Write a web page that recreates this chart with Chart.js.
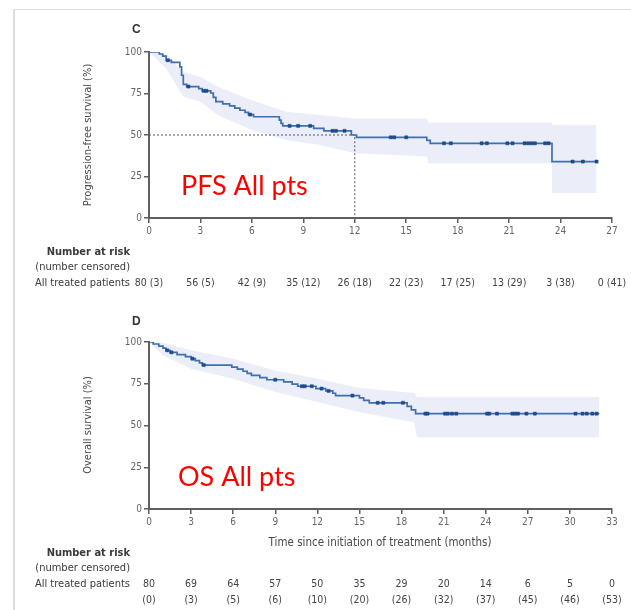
<!DOCTYPE html>
<html>
<head>
<meta charset="utf-8">
<script src="https://cdn.jsdelivr.net/npm/chart.js@4.4.1/dist/chart.umd.min.js"></script>
<style>
  html, body { margin: 0; padding: 0; background: #ffffff; }
  #frame { position: absolute; left: 13px; top: 9px; width: 618px; height: 601px;
           border-top: 1px solid #dedede; border-left: 2px solid #dedede; }
  .panel { position: absolute; left: 0; width: 631px; }
  #pC { top: 0; height: 300px; }
  #pD { top: 300px; height: 310px; }
</style>
</head>
<body>
<div id="frame"></div>
<div class="panel" id="pC"><canvas id="cC" width="631" height="300"></canvas></div>
<div class="panel" id="pD"><canvas id="cD" width="631" height="310"></canvas></div>
<script>
// ---------- Panel C: progression-free survival ----------
const pfsTicks = [0, 3, 6, 9, 12, 15, 18, 21, 24, 27];
const pfsAtRisk = [80, 56, 42, 35, 26, 22, 17, 13, 3, 0];
const pfsCensored = [3, 5, 9, 12, 18, 23, 25, 29, 38, 41];
// Kaplan-Meier steps: time (months) and survival (%) after each event
const pfsStepT = [0, 0.6, 0.8, 1.0, 1.3, 1.8, 1.9, 2.0, 2.2, 2.9, 3.1, 3.6, 3.75, 3.9, 4.3, 4.7, 5.0, 5.3, 5.6, 5.8, 6.1, 7.6, 7.7, 7.8, 9.6, 10.2, 11.8, 12.1, 16.2, 16.4, 23.5, 26.1];
const pfsStepS = [100, 98.8, 97.5, 95.0, 93.8, 91.0, 86.0, 80.5, 79.2, 77.9, 76.6, 75.3, 72.7, 70.1, 68.8, 67.5, 66.2, 64.9, 63.6, 62.3, 61.0, 59.0, 57.0, 55.5, 54.0, 52.5, 50.0, 48.6, 46.8, 45.0, 34.0, 34.0];
const pfsCensorT = [1.1, 2.3, 3.2, 3.35, 5.9, 8.2, 8.7, 9.4, 10.7, 10.9, 11.4, 14.1, 14.3, 15.0, 17.2, 17.6, 19.4, 19.7, 20.9, 21.2, 21.9, 22.1, 22.3, 22.5, 23.1, 23.3, 24.7, 25.3, 26.1];
// 95% confidence band (repeated times mark a vertical edge)
const pfsBandT = [0, 1, 2, 3, 4, 6, 8, 10, 12, 16.2, 16.3, 23.5, 23.5, 26.1];
const pfsUpper = [100, 99, 88, 85, 79, 71, 64, 62, 60, 60, 57.5, 57.5, 56, 56];
const pfsLower = [100, 90, 73, 70, 62, 53, 47, 44, 39, 37, 33, 33, 15, 15];
const pfsMedianMonths = 12;
const pfsMedianLevel = 50;

// ---------- Panel D: overall survival ----------
const osTicks = [0, 3, 6, 9, 12, 15, 18, 21, 24, 27, 30, 33];
const osAtRisk = [80, 69, 64, 57, 50, 35, 29, 20, 14, 6, 5, 0];
const osCensored = [0, 3, 5, 6, 10, 20, 26, 32, 37, 45, 46, 53];
const osStepT = [0, 0.3, 0.7, 1.0, 1.2, 1.5, 2.0, 2.6, 3.0, 3.3, 3.6, 3.8, 5.9, 6.3, 6.7, 7.0, 7.3, 7.9, 8.4, 9.6, 10.2, 10.6, 11.9, 12.6, 13.1, 13.3, 15.0, 15.3, 15.7, 18.4, 18.7, 19.0, 32.1];
const osStepS = [100, 98.8, 97.5, 96.3, 95.0, 93.8, 92.5, 91.2, 90.0, 88.8, 87.5, 86.2, 85.0, 83.7, 82.5, 81.2, 80.0, 78.7, 77.4, 76.1, 74.8, 73.5, 72.1, 70.7, 69.3, 67.9, 66.5, 65.1, 63.6, 61.4, 59.3, 57.1, 57.1];
const osCensorT = [1.3, 1.6, 3.1, 3.9, 9.0, 10.9, 11.1, 11.6, 12.3, 12.8, 14.5, 16.3, 16.7, 18.1, 19.7, 19.85, 21.1, 21.3, 21.6, 21.9, 24.1, 24.25, 24.8, 25.9, 26.1, 26.3, 26.9, 27.5, 30.4, 30.9, 31.2, 31.6, 31.9];
const osBandT = [0, 1, 3, 6, 9, 12, 15, 18.9, 19.1, 32.1];
const osUpper = [100, 99.5, 95, 90, 83, 78, 72.5, 69.5, 67, 67];
const osLower = [100, 92, 84, 78, 70, 64, 58, 52, 43, 43];

// ---------- shared styling ----------
const LINE_BLUE = '#3f6fae';
const MARK_BLUE = '#1d4b8c';
const BAND_FILL = 'rgba(195, 205, 238, 0.34)';
const AXIS_GREY = '#5f5f5f';
const TEXT_GREY = '#4a4a4a';
const NARROW = '"Liberation Sans Narrow", "DejaVu Sans Condensed", "Liberation Sans", sans-serif';

const toPts = (xs, ys) => xs.map((x, i) => ({ x: x, y: ys[i] }));
function survivalAt(ts, ss, t) {
  let v = ss[0];
  for (let i = 0; i < ts.length; i++) { if (ts[i] <= t) v = ss[i]; }
  return v;
}

function datasetsFor(stepT, stepS, censorT, bandT, upper, lower, extra) {
  const sets = [
    { label: 'lower', data: toPts(bandT, lower), borderWidth: 0,
      pointRadius: 0, fill: false, order: 5 },
    { label: 'upper', data: toPts(bandT, upper), borderWidth: 0,
      pointRadius: 0, fill: '-1', backgroundColor: BAND_FILL, order: 4 },
    { label: 'km', data: toPts(stepT, stepS), stepped: 'before', borderColor: LINE_BLUE,
      borderWidth: 1.7, pointRadius: 0, fill: false, order: 2 },
    { label: 'censored', data: censorT.map(t => ({ x: t, y: survivalAt(stepT, stepS, t) })),
      showLine: false, pointStyle: 'rect', pointRadius: 2.2, pointBackgroundColor: MARK_BLUE,
      pointBorderColor: MARK_BLUE, pointBorderWidth: 0.5, fill: false, order: 1 }
  ];
  return sets.concat(extra || []);
}

function scalesFor(xMax, yWidth, xHeight) {
  const tickFont = { family: NARROW, size: 10 };
  return {
    x: {
      type: 'linear', min: 0, max: xMax,
      afterBuildTicks: s => { s.ticks = []; for (let v = 0; v <= xMax; v += 3) s.ticks.push({ value: v }); },
      ticks: { font: tickFont, color: '#666', padding: 2, maxRotation: 0, autoSkip: false },
      grid: { display: true, drawOnChartArea: false, drawTicks: true, tickLength: 5, color: AXIS_GREY, lineWidth: 1.5 },
      border: { display: true, color: AXIS_GREY, width: 2 },
      afterFit: s => { s.height = xHeight; }
    },
    y: {
      type: 'linear', min: 0, max: 100,
      ticks: { stepSize: 25, font: tickFont, color: '#666', padding: 2 },
      grid: { display: true, drawOnChartArea: false, drawTicks: true, tickLength: 5, color: AXIS_GREY, lineWidth: 1.5 },
      border: { display: true, color: AXIS_GREY, width: 2 },
      afterFit: s => { s.width = yWidth; }
    }
  };
}

// Panel text: letter, rotated y title, risk table, overlay caption
function panelText(cfg) {
  return {
    id: 'panelText' + cfg.letter,
    afterDraw(chart) {
      const ctx = chart.ctx;
      const xs = chart.scales.x;
      ctx.save();
      ctx.fillStyle = '#333';
      ctx.font = 'bold 12px "Liberation Sans", sans-serif';
      ctx.textAlign = 'left'; ctx.textBaseline = 'middle';
      ctx.fillText(cfg.letter, cfg.letterX, cfg.letterY);

      // y-axis title
      ctx.save();
      ctx.translate(88, cfg.yTitleY);
      ctx.rotate(-Math.PI / 2);
      ctx.font = '11px ' + NARROW;
      ctx.fillStyle = TEXT_GREY;
      ctx.textAlign = 'center';
      ctx.fillText(cfg.yTitle, 0, 0);
      ctx.restore();

      // x-axis title
      if (cfg.xTitle) {
        ctx.font = '11.5px ' + NARROW;
        ctx.fillStyle = TEXT_GREY;
        ctx.textAlign = 'center';
        ctx.fillText(cfg.xTitle, 380, cfg.xTitleY);
      }

      // number-at-risk table
      ctx.textAlign = 'right';
      ctx.fillStyle = '#3a3a3a';
      ctx.font = 'bold 11px ' + NARROW;
      ctx.fillText('Number at risk', 130, cfg.rowY[0]);
      ctx.font = '11px ' + NARROW;
      ctx.fillText('(number censored)', 130, cfg.rowY[1]);
      ctx.fillText('All treated patients', 130, cfg.rowY[2]);
      ctx.textAlign = 'center';
      ctx.font = '10.5px ' + NARROW;
      ctx.fillStyle = '#444';
      cfg.ticks.forEach((t, i) => {
        const px = xs.getPixelForValue(t);
        if (cfg.twoLine) {
          ctx.fillText(String(cfg.atRisk[i]), px, cfg.rowY[2]);
          ctx.fillText('(' + cfg.censored[i] + ')', px, cfg.rowY[3]);
        } else {
          ctx.fillText(cfg.atRisk[i] + ' (' + cfg.censored[i] + ')', px, cfg.rowY[2]);
        }
      });

      // caption
      ctx.fillStyle = '#ff0000';
      ctx.font = '27px Lato, "Open Sans", sans-serif';
      ctx.textAlign = 'left';
      ctx.textBaseline = 'alphabetic';
      ctx.fillText(cfg.caption, cfg.captionX, cfg.captionY);
      ctx.restore();
    }
  };
}

const baseOptions = (xMax, padding, xHeight) => ({
  responsive: false,
  animation: false,
  devicePixelRatio: 1,
  layout: { padding: padding },
  plugins: { legend: { display: false }, tooltip: { enabled: false } },
  elements: { line: { tension: 0 } },
  scales: scalesFor(xMax, 40, xHeight)
});

// ---- Panel C ----
const medianGuide = {
  label: 'median', data: [{ x: 0, y: pfsMedianLevel }, { x: pfsMedianMonths, y: pfsMedianLevel }, { x: pfsMedianMonths, y: 0 }],
  borderColor: '#555', borderWidth: 1, borderDash: [2, 2], pointRadius: 0, fill: false, order: 3
};
new Chart(document.getElementById('cC'), {
  type: 'line',
  data: { datasets: datasetsFor(pfsStepT, pfsStepS, pfsCensorT, pfsBandT, pfsUpper, pfsLower, [medianGuide]) },
  options: baseOptions(27, { left: 109, right: 19, top: 52, bottom: 62 }, 20),
  plugins: [panelText({
    letter: 'C', letterX: 132, letterY: 30,
    yTitle: 'Progression-free survival (%)', yTitleY: 135,
    ticks: pfsTicks, atRisk: pfsAtRisk, censored: pfsCensored, twoLine: false,
    rowY: [252, 267, 283],
    caption: 'PFS All pts', captionX: 181, captionY: 195
  })]
});

// ---- Panel D ----
new Chart(document.getElementById('cD'), {
  type: 'line',
  data: { datasets: datasetsFor(osStepT, osStepS, osCensorT, osBandT, osUpper, osLower) },
  options: baseOptions(33, { left: 109, right: 19, top: 42, bottom: 81 }, 20),
  plugins: [panelText({
    letter: 'D', letterX: 132, letterY: 22,
    yTitle: 'Overall survival (%)', yTitleY: 125,
    xTitle: 'Time since initiation of treatment (months)', xTitleY: 243,
    ticks: osTicks, atRisk: osAtRisk, censored: osCensored, twoLine: true,
    rowY: [253, 268, 284, 300],
    caption: 'OS All pts', captionX: 178, captionY: 186
  })]
});
</script>
</body>
</html>
